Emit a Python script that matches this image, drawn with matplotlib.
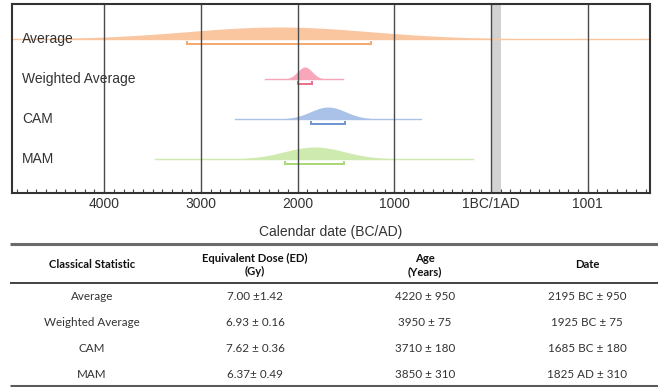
import numpy as np
import matplotlib
matplotlib.use("Agg")
import matplotlib.pyplot as plt
from matplotlib.transforms import blended_transform_factory

# ---- data -------------------------------------------------------------
stats = ["Average", "Weighted Average", "CAM", "MAM"]
date_years = [2195, 1925, 1685, 1825]          # calendar years BC (plotted)
date_sigma = [950, 75, 180, 310]
date_era = ["BC", "BC", "BC", "AD"]             # era as written in the table
ed_text = ["7.00 \u00b11.42", "6.93 \u00b1 0.16", "7.62 \u00b1 0.36", "6.37\u00b1 0.49"]
age_years = [4220, 3950, 3710, 3850]
age_sigma = [950, 75, 180, 310]

# extent of each distribution's baseline (signed years, BC negative)
line_lo = [-4953, -2340, -2650, -3470]
line_hi = [1644, -1535, -725, -190]

tick_values = [-4000, -3000, -2000, -1000, 0, 1001]
tick_labels = ["4000", "3000", "2000", "1000", "1BC/1AD", "1001"]

fill_colors = ["#f9c6a0", "#f8a7ba", "#aac2e8", "#cfeaae"]
line_colors = ["#f4a86e", "#ec6d89", "#6f93d3", "#a9d877"]

# ---- figure -----------------------------------------------------------
W, H = 658, 387
fig = plt.figure(figsize=(W / 100, H / 100), dpi=100)
plt.rcParams["font.family"] = ["Liberation Sans", "DejaVu Sans"]

ax_l, ax_r, ax_t, ax_b = 12, 650, 4, 193
ax = fig.add_axes([ax_l / W, 1 - ax_b / H, (ax_r - ax_l) / W, (ax_b - ax_t) / H])
ax.set_xlim(-4953, 1644)
ax.set_ylim(0.15, 4.875)

# 1BC/1AD band and vertical grid
ax.axvspan(0, 100, color="#d2d2d2", lw=0, zorder=1)
for tv in tick_values:
    ax.axvline(tv, color="#4a4a4a", lw=1.0, zorder=4)

peak_h = 0.30
tr = blended_transform_factory(ax.transAxes, ax.transData)
for i, name in enumerate(stats):
    yb = 4 - i
    mu = -date_years[i]
    sd = date_sigma[i]
    xs = np.linspace(line_lo[i], line_hi[i], 800)
    dens = np.exp(-0.5 * ((xs - mu) / sd) ** 2)
    ax.fill_between(xs, yb, yb + peak_h * dens, color=fill_colors[i], lw=0, zorder=2)
    ax.plot([line_lo[i], line_hi[i]], [yb, yb], color=fill_colors[i], lw=1.0, zorder=2)
    # one-sigma bracket
    yk = yb - 0.12
    ax.plot([mu - sd, mu - sd, mu + sd, mu + sd], [yk + 0.05, yk, yk, yk + 0.05],
            color=line_colors[i], lw=1.4, zorder=3, solid_joinstyle="miter")
    ax.text(0.0157, yb, name, transform=tr, fontsize=10, color="#333333",
            va="center", ha="left", zorder=5)

ax.set_xticks(tick_values)
ax.set_xticklabels(tick_labels)
ax.set_xticks(np.arange(-4900, 1700, 100), minor=True)
ax.set_yticks([])
ax.tick_params(axis="x", which="major", direction="in", length=0, pad=3,
               labelsize=10, labelcolor="#333333")
ax.tick_params(axis="x", which="minor", direction="in", length=3, width=0.8,
               color="#444444")
for sp in ax.spines.values():
    sp.set_color("#333333")
    sp.set_linewidth(1.5)
    sp.set_zorder(6)

fig.text((ax_l + ax_r) / 2 / W, 1 - 232 / H, "Calendar date (BC/AD)",
         ha="center", va="center", fontsize=10, color="#333333")

# ---- table ------------------------------------------------------------
tb = fig.add_axes([0, 0, 1, 1])
tb.set_xlim(0, W)
tb.set_ylim(H, 0)
tb.axis("off")

tfont = ["Lato", "DejaVu Sans"]
col_x = [92, 255, 425, 587]
tb.plot([10, W], [244, 244], color="#6a6a6a", lw=2.2, solid_capstyle="butt")
tb.plot([10, W], [283, 283], color="#222222", lw=1.2, solid_capstyle="butt")
tb.plot([10, W], [386, 386], color="#5a5a5a", lw=2.2, solid_capstyle="butt")

headers = ["Classical Statistic", "Equivalent Dose (ED)\n(Gy)", "Age\n(Years)", "Date"]
for x, h in zip(col_x, headers):
    tb.text(x, 265, h, ha="center", va="center", fontsize=8.1, fontweight="bold",
            family=tfont, color="#111111", linespacing=1.3)

row_y = [297, 323, 349, 374]
for i in range(len(stats)):
    cells = [stats[i], ed_text[i],
             f"{age_years[i]} \u00b1 {age_sigma[i]}",
             f"{date_years[i]} {date_era[i]} \u00b1 {date_sigma[i]}"]
    for x, c in zip(col_x, cells):
        tb.text(x, row_y[i], c, ha="center", va="center", fontsize=8.4,
                family=tfont, color="#333333")

fig.savefig("out.png", dpi=100)
